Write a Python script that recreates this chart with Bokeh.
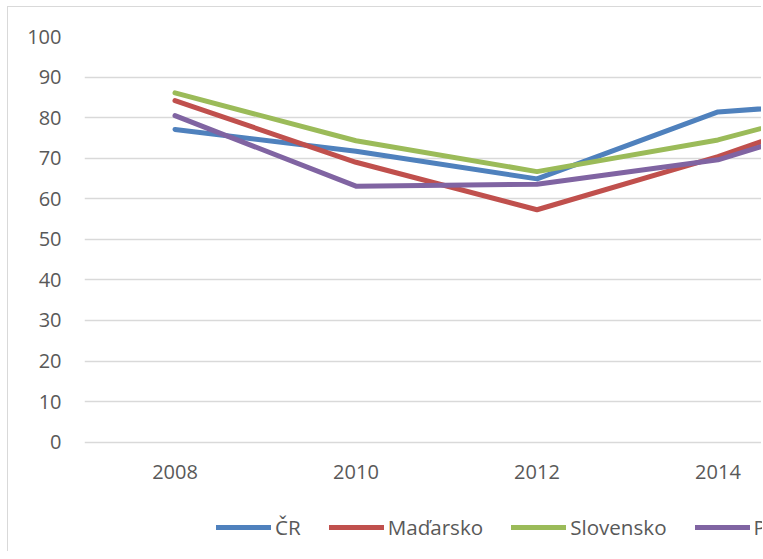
from bokeh.plotting import figure
from bokeh.models import Range1d, FixedTicker, Legend, LegendItem
from bokeh.embed import file_html
from bokeh.resources import INLINE

years = [2008, 2010, 2012, 2014, 2016]
tick_labels = ["2008", "2010", "2012", "2014", "2016"]
cr = [77.1, 71.7, 64.9, 81.4, 84.6]
madarsko = [84.2, 69.0, 57.3, 70.4, 85.8]
slovensko = [86.1, 74.3, 66.7, 74.5, 86.4]
polsko = [80.5, 63.1, 63.6, 69.6, 83.3]

series = [
    ("ČR", cr, "#4F81BD"),
    ("Maďarsko", madarsko, "#C0504D"),
    ("Slovensko", slovensko, "#9BBB59"),
    ("Polsko", polsko, "#8064A2"),
]

FONT = "Open Sans"
TXT = "#595959"

# frame extends below the 0 line so that the legend sits inside it
p = figure(width=754, height=545, output_backend="svg", toolbar_location=None,
           x_range=Range1d(2007, 2014.492), y_range=Range1d(-27.19, 100),
           min_border_left=76, min_border_right=0, min_border_top=29,
           min_border_bottom=0)
p.styles = {"margin-left": "7px", "margin-top": "6px",
            "border-left": "1px solid #d9d9d9", "border-top": "1px solid #d9d9d9"}
p.outline_line_color = None
p.background_fill_color = "white"
p.border_fill_color = "white"

items = []
for name, vals, col in series:
    r = p.line(years, vals, line_color=col, line_width=5,
               line_cap="round", line_join="round")
    items.append(LegendItem(label=name, renderers=[r]))

p.xaxis.ticker = FixedTicker(ticks=years)
p.xaxis.major_label_overrides = {y: t for y, t in zip(years, tick_labels)}
p.xaxis.fixed_location = 0
p.yaxis.ticker = FixedTicker(ticks=list(range(0, 101, 10)))
for ax in (p.xaxis, p.yaxis):
    ax.axis_line_color = None
    ax.major_tick_line_color = None
    ax.minor_tick_line_color = None
    ax.major_tick_out = 0
    ax.major_tick_in = 0
    ax.minor_tick_out = 0
    ax.major_label_text_font = FONT
    ax.major_label_text_font_size = "20px"
    ax.major_label_text_color = TXT
p.xaxis.major_label_standoff = 23
p.yaxis.major_label_standoff = 23

p.xgrid.grid_line_color = None
p.ygrid.grid_line_color = "#d9d9d9"
p.ygrid.grid_line_width = 1.3

legend = Legend(items=items, orientation="horizontal", location=(132, 11),
                glyph_width=55, glyph_height=28, label_height=28,
                label_standoff=4, spacing=28, padding=0, margin=0,
                label_text_font=FONT, label_text_font_size="20.6px",
                label_text_color=TXT, border_line_color=None,
                background_fill_alpha=0)
p.add_layout(legend, "center")

open("out.html", "w").write(file_html(p, INLINE))
